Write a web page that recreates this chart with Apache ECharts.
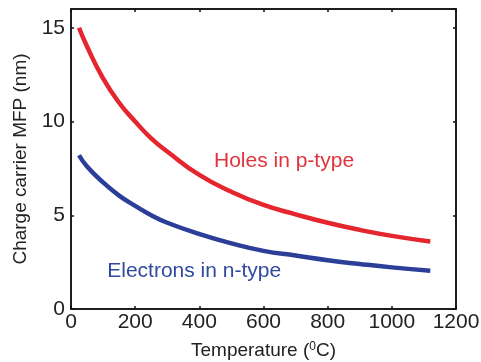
<!DOCTYPE html>
<html>
<head>
<meta charset="utf-8">
<style>
  html, body { margin: 0; padding: 0; background: #fff; }
  #chart { width: 481px; height: 362px; }
</style>
<script src="https://cdn.jsdelivr.net/npm/echarts@6/dist/echarts.min.js"></script>
</head>
<body>
<div id="chart"></div>
<script>
// temperature (deg C) where values were read
const temps = [25, 50, 100, 150, 200, 250, 300, 400, 500, 600, 700, 800, 900, 1000, 1120];
// mean free path (nm)
const holes = [15.0, 14.0, 12.3, 11.0, 10.0, 9.1, 8.4, 7.15, 6.25, 5.55, 5.05, 4.6, 4.22, 3.9, 3.6];
const electrons = [8.2, 7.6, 6.75, 6.05, 5.5, 5.0, 4.6, 4.0, 3.5, 3.1, 2.85, 2.6, 2.4, 2.22, 2.04];

const holesLabel = { text: 'Holes in p-type', at: [664, 7.9] };
const electronsLabel = { text: 'Electrons in n-type', at: [384, 2.0] };

const RED = '#e5262f';
const BLUE = '#2b3f99';
const FONT = 'Liberation Sans';

const chart = echarts.init(document.getElementById('chart'));

const pairs = (xs, ys) => xs.map((x, i) => [x, ys[i]]);

const textLabel = (lbl, color) => ({
  silent: true,
  symbol: 'circle',
  symbolSize: 0,
  data: [{ coord: lbl.at }],
  label: {
    show: true,
    position: 'inside',
    formatter: lbl.text,
    color: color,
    fontSize: 21,
    fontFamily: FONT,
  },
});

const boxAxis = {
  show: true,
  axisLine: { show: true, onZero: false, lineStyle: { color: '#111', width: 1.5 } },
  axisTick: { show: true, inside: true, length: 3, lineStyle: { color: '#111', width: 1.5 } },
  axisLabel: { show: false },
  splitLine: { show: false },
};

chart.setOption({
  animation: false,
  backgroundColor: '#fff',
  grid: {
    left: 71, right: 25, top: 9, bottom: 53,
    outerBoundsMode: 'none',
    show: true, borderColor: '#111', borderWidth: 1.5,
  },
  xAxis: [
    {
      type: 'value',
      min: 0,
      max: 1200,
      interval: 200,
      name: 'Temperature ({sup|0}C)',
      nameLocation: 'middle',
      nameGap: 32,
      nameTextStyle: {
        color: '#222',
        fontSize: 19,
        fontFamily: FONT,
        rich: { sup: { fontSize: 12, verticalAlign: 'top', fontFamily: FONT, color: '#222' } },
      },
      axisLine: { onZero: false, lineStyle: { color: '#111', width: 1.5 } },
      axisTick: { show: true, inside: true, length: 3, lineStyle: { color: '#111', width: 1.5 } },
      axisLabel: { color: '#222', fontSize: 21, fontFamily: FONT, margin: 3, formatter: (v) => String(v) },
      splitLine: { show: false },
    },
    Object.assign({ type: 'value', position: 'top', min: 0, max: 1200, interval: 200 }, boxAxis),
  ],
  yAxis: [
    {
      type: 'value',
      min: 0,
      max: 16,
      interval: 5,
      name: 'Charge carrier MFP (nm)',
      nameLocation: 'middle',
      nameGap: 39,
      nameTextStyle: { color: '#222', fontSize: 19, fontFamily: FONT },
      axisLine: { show: true, onZero: false, lineStyle: { color: '#111', width: 1.5 } },
      axisTick: { show: true, inside: true, length: 3, lineStyle: { color: '#111', width: 1.5 } },
      axisLabel: { color: '#222', fontSize: 21, fontFamily: FONT, margin: 6, showMaxLabel: false },
      splitLine: { show: false },
    },
    Object.assign({ type: 'value', position: 'right', min: 0, max: 16, interval: 5 }, boxAxis),
  ],
  series: [
    {
      type: 'line',
      data: pairs(temps, holes),
      smooth: 0.5,
      showSymbol: false,
      lineStyle: { color: RED, width: 4.5 },
      markPoint: textLabel(holesLabel, '#e0333b'),
    },
    {
      type: 'line',
      data: pairs(temps, electrons),
      smooth: 0.5,
      showSymbol: false,
      lineStyle: { color: BLUE, width: 4.5 },
      markPoint: textLabel(electronsLabel, '#2f4a9e'),
    },
    {
      // invisible series so the box axes on top/right get drawn with their ticks
      type: 'line',
      xAxisIndex: 1,
      yAxisIndex: 1,
      data: [[0, 0]],
      showSymbol: false,
      lineStyle: { opacity: 0 },
      silent: true,
    },
  ],
});
</script>
</body>
</html>
